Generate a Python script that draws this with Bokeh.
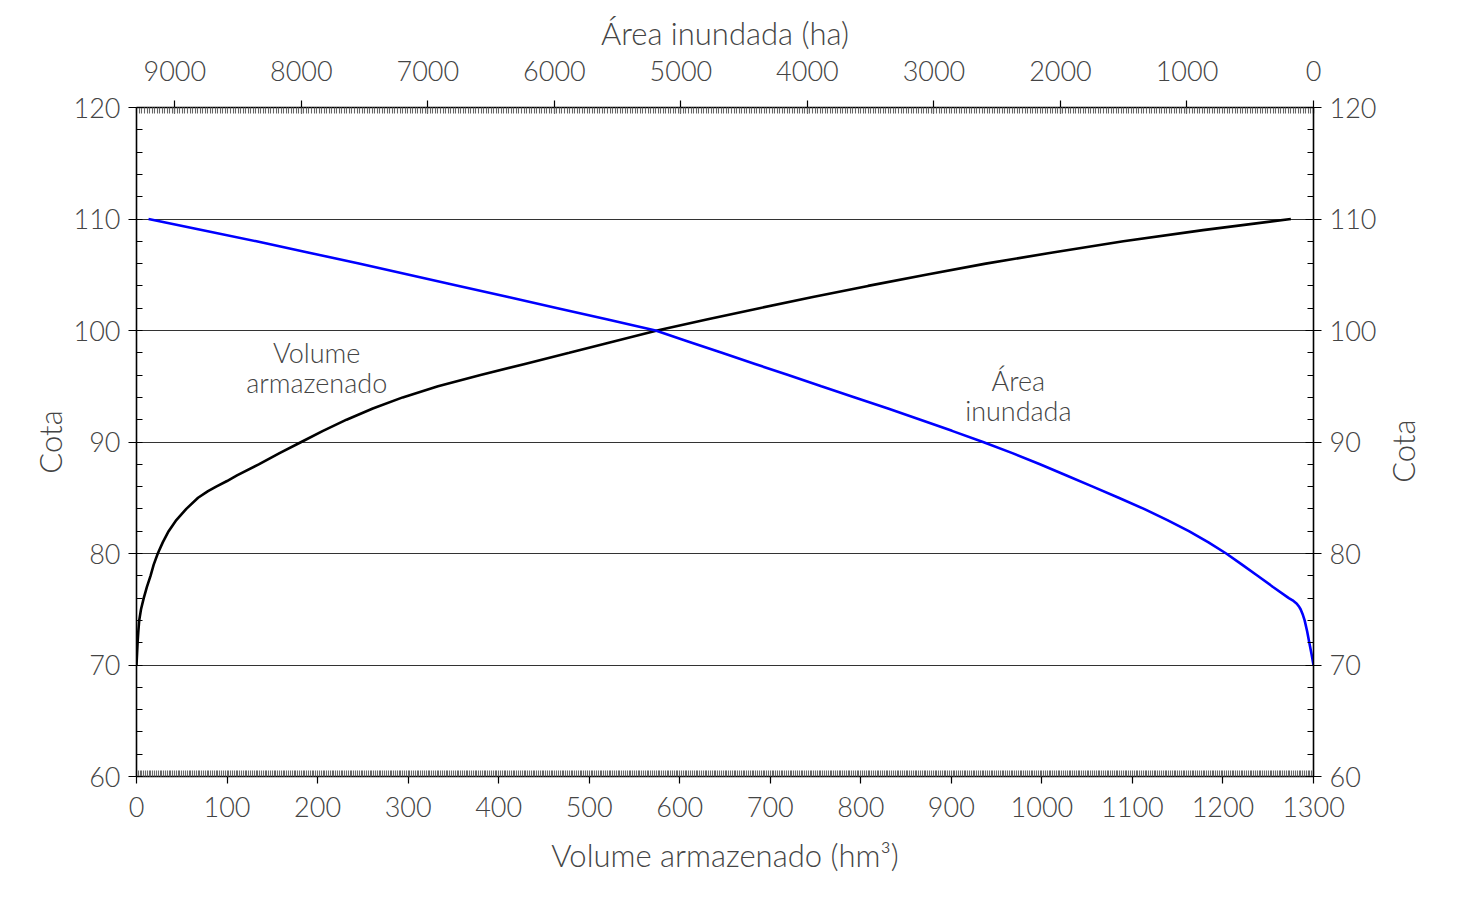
from math import pi
from bokeh.plotting import figure
from bokeh.layouts import row
from bokeh.models import LinearAxis, Range1d, FixedTicker, Label
from bokeh.embed import file_html
from bokeh.resources import INLINE

# ---- data ----
cota_vol = [70, 70.5, 71, 72, 73, 74, 75, 76, 77, 78, 79, 80, 81, 82, 83, 84, 85, 85.6, 86,
            86.5, 87, 88, 89, 90, 91, 92, 93, 94, 95, 96, 97, 98, 99, 100, 101, 102, 103,
            104, 105, 106, 107, 108, 109, 110]
volume = [0, 0.3, 0.6, 1.2, 2, 3, 5, 8, 11.5, 15.5, 19, 23.5, 29, 35.5, 44, 55, 68, 79, 88,
          100, 111, 135, 158, 182, 206, 232, 261, 294, 333, 380, 429, 478, 526, 575, 631, 688,
          747, 808, 872, 938, 1012, 1090, 1178, 1275]

cota_area = [70, 71, 72, 73, 74, 74.5, 75, 75.2, 75.5, 75.8, 76, 77, 78, 79, 80, 81, 82, 83,
             84, 85, 86, 87, 88, 89, 90, 91, 92, 93, 94, 95, 96, 97, 98, 99, 100, 101, 102,
             103, 104, 105, 106, 107, 108, 109, 110]
area = [0, 16, 33, 50, 70, 84, 102, 112, 132, 165, 195, 320, 442, 565, 690, 830, 985, 1155,
        1340, 1540, 1745, 1952, 2162, 2380, 2612, 2857, 3107, 3363, 3625, 3890, 4152, 4414,
        4676, 4938, 5200, 5587, 5975, 6365, 6755, 7150, 7545, 7948, 8355, 8778, 9208]

vol_ticks = list(range(0, 1301, 100))
area_ticks = list(range(0, 9001, 1000))
cota_ticks = list(range(60, 121, 10))
grid_ticks = [70, 80, 90, 100, 110]

FONT = "Lato Light, Lato"
TXT = "#444444"
TICK_FS = "27px"
TITLE_FS = "31px"
TOTAL_H = 876

p = figure(frame_width=1177, frame_height=669,
           x_range=Range1d(0, 1300), y_range=Range1d(60, 120),
           output_backend="svg", toolbar_location=None,
           min_border_left=136, min_border_top=107, min_border_right=70,
           min_border_bottom=TOTAL_H - 107 - 669,
           background_fill_color="white", border_fill_color="white")
p.outline_line_color = None
p.extra_x_ranges = {"area": Range1d(9303, 0)}

# grids
p.xgrid.visible = False
p.ygrid.ticker = FixedTicker(ticks=grid_ticks)
p.ygrid.grid_line_color = "#333333"
p.ygrid.grid_line_width = 1


def style(ax, ticks, minor, tin, tout, standoff):
    ax.ticker = FixedTicker(ticks=ticks, minor_ticks=minor)
    ax.axis_line_color = "black"
    ax.axis_line_width = 1.6
    ax.major_tick_line_color = "black"
    ax.major_tick_line_width = 1.2
    ax.major_tick_in = tin
    ax.major_tick_out = tout
    ax.major_label_text_font = FONT
    ax.major_label_text_font_size = TICK_FS
    ax.major_label_text_color = TXT
    ax.major_label_standoff = standoff
    ax.axis_label_text_font = FONT
    ax.axis_label_text_font_size = TITLE_FS
    ax.axis_label_text_font_style = "normal"
    ax.axis_label_text_color = TXT


# bottom axis (volume)
bx = p.xaxis[0]
style(bx, vol_ticks, list(range(0, 1301, 2)), 0, 7, 13)
bx.minor_tick_line_color = "#666666"
bx.minor_tick_line_width = 1.1
bx.minor_tick_in = 6
bx.minor_tick_out = 0
bx.axis_label = "Volume armazenado (hm³)"
bx.axis_label_standoff = 16

# left axis (cota)
ly = p.yaxis[0]
style(ly, cota_ticks, list(range(60, 121, 2)), 0, 8, 8)
ly.minor_tick_line_color = "black"
ly.minor_tick_in = 6
ly.minor_tick_out = 0
ly.axis_label = "Cota"
ly.axis_label_standoff = 2

# top axis (area)
tx = LinearAxis(x_range_name="area")
style(tx, area_ticks, list(range(0, 9303, 20)), 6, 7, 20)
tx.minor_tick_line_color = "#666666"
tx.minor_tick_line_width = 1.1
tx.minor_tick_in = 6
tx.minor_tick_out = 0
tx.axis_label = "Área inundada (ha)"
tx.axis_label_standoff = 6
p.add_layout(tx, "above")

# right axis (cota)
ry = LinearAxis()
style(ry, cota_ticks, list(range(60, 121, 2)), 8, 8, 8)
ry.minor_tick_line_color = "black"
ry.minor_tick_in = 6
ry.minor_tick_out = 0
p.add_layout(ry, "right")

# curves
p.line(volume, cota_vol, line_color="black", line_width=2.6)
p.line(area, cota_area, line_color="#0000ff", line_width=2.6, x_range_name="area")

# curve annotations
for txt, xv, yv in [("Volume", 199, 98.0), ("armazenado", 199, 95.3),
                    ("Área", 974, 95.5), ("inundada", 974, 92.8)]:
    p.add_layout(Label(x=xv, y=yv, text=txt, text_align="center", text_baseline="middle",
                       text_font=FONT, text_font_size="27px", text_color=TXT))

# narrow side panel carrying the right-hand "Cota" title (reads bottom to top)
SIDE_W = 45
q = figure(width=SIDE_W, height=TOTAL_H, x_range=Range1d(0, SIDE_W),
           y_range=Range1d(TOTAL_H, 0), output_backend="svg", toolbar_location=None,
           x_axis_location=None, y_axis_location=None,
           min_border_left=0, min_border_right=0, min_border_top=0, min_border_bottom=0,
           background_fill_color="white", border_fill_color="white")
q.outline_line_color = None
q.grid.visible = False
q.add_layout(Label(x=19, y=450, text="Cota", angle=pi / 2, text_align="center",
                   text_baseline="middle", text_font=FONT, text_font_size=TITLE_FS,
                   text_color=TXT))

layout = row(p, q)
open("out.html", "w").write(file_html(layout, INLINE))
